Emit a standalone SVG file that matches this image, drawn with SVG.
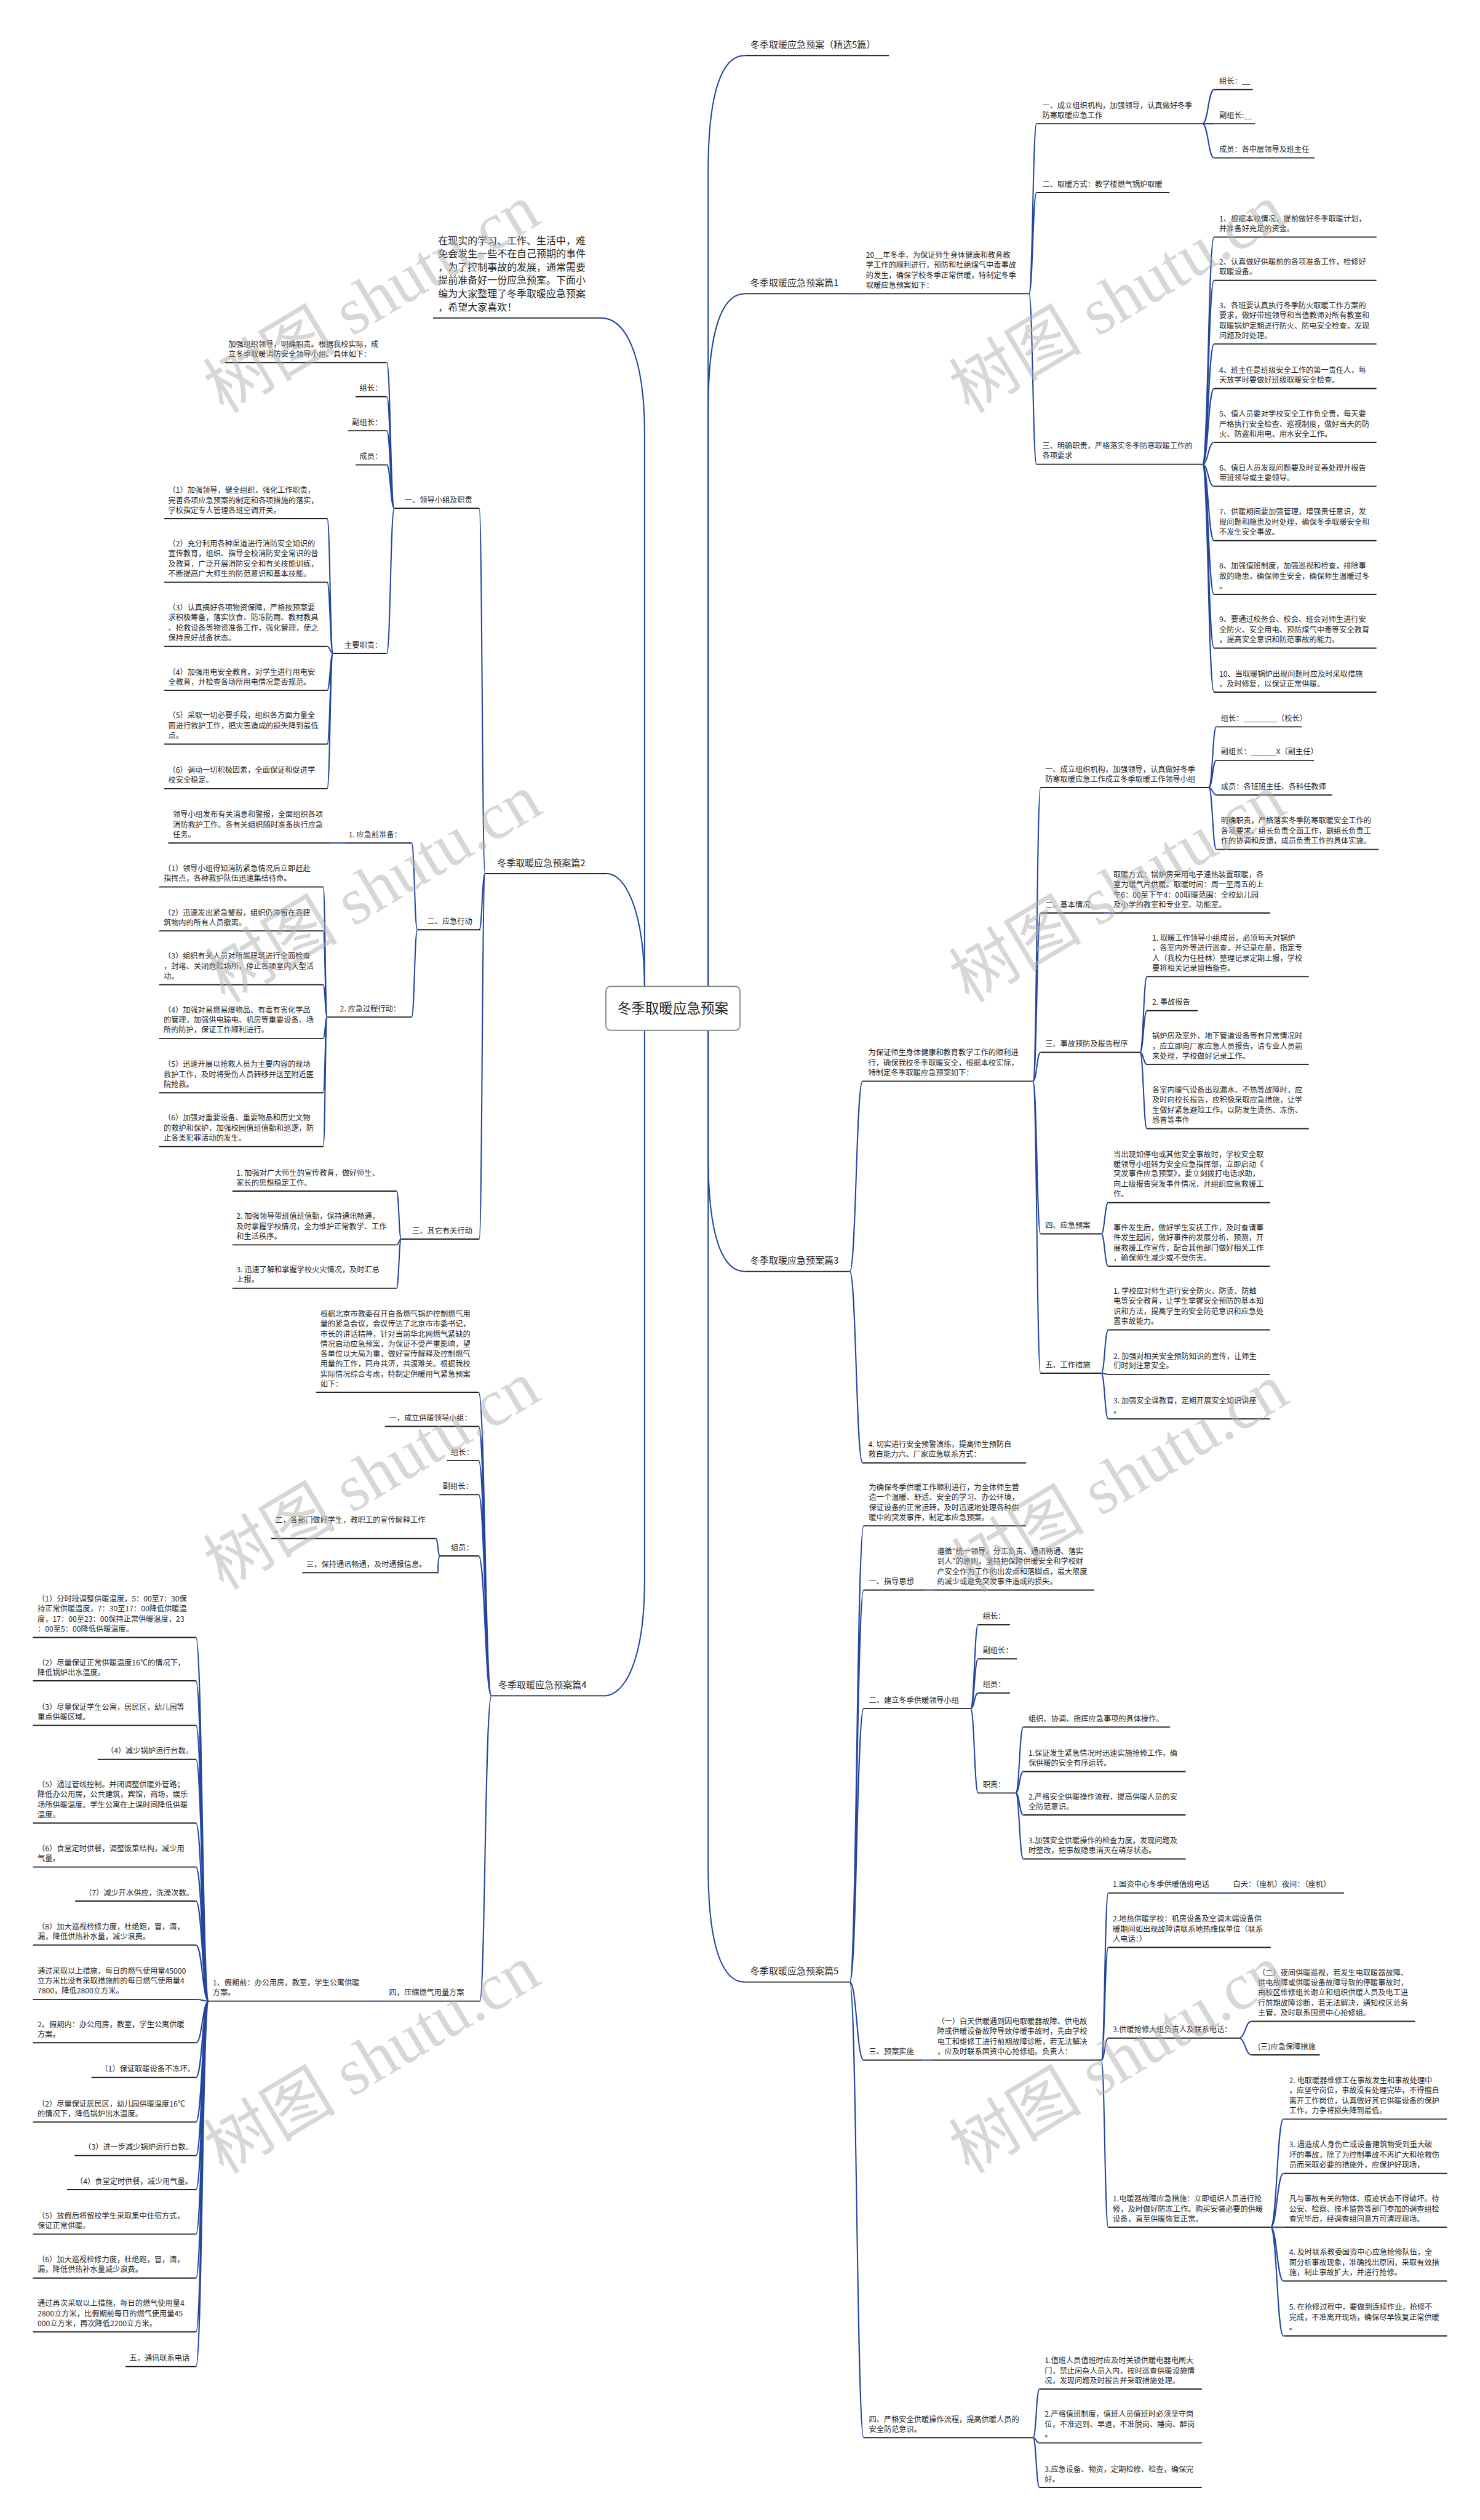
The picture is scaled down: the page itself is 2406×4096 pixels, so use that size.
<svg xmlns="http://www.w3.org/2000/svg" width="2406" height="4096" viewBox="0 0 2406 4096">
<style>
.t{font-family:"Noto Sans CJK SC","Noto Sans",sans-serif;font-size:13px;fill:#262626}
.b{font-size:16px}
.i{font-size:17px}
.u{stroke:#222;stroke-width:2;fill:none}
.c{stroke:#24479d;stroke-width:2.2;fill:none}
.w{font-family:"Liberation Serif","Noto Sans CJK SC",serif;font-size:115px;fill:#b0b0b0;opacity:.5}
</style>
<rect width="2406" height="4096" fill="#fff"/>
<g transform="scale(0.9398)">
<g id="connectors">
<path class="c" d="M1225 1744V296C1225 156 1250 96 1288 96"/>
<path class="c" d="M1225 1744V708C1225 568 1250 508 1288 508"/>
<path class="c" d="M1225 1744V1999C1225 2139 1250 2199 1288 2199"/>
<path class="c" d="M1225 1744V3228C1225 3368 1250 3428 1288 3428"/>
<path class="c" d="M1115 1744V750C1115 610 1080 550 1040 550"/>
<path class="c" d="M1115 1744V1711C1115 1571 1080 1511 1050 1511"/>
<path class="c" d="M1115 1744V2733C1115 2873 1080 2933 1045 2933"/>
<path class="c" d="M1470 508H1492"/>
<path class="c" d="M1780 508C1786.5 508 1786.5 214 1793 214M1780 508C1786.5 508 1786.5 333 1793 333M1780 508C1786.5 508 1786.5 803 1793 803"/>
<path class="c" d="M2080 214C2090 214 2090 155 2100 155M2080 214H2100M2080 214C2090 214 2090 273 2100 273"/>
<path class="c" d="M2080 803C2090 803 2090 410 2100 410M2080 803C2090 803 2090 485 2100 485M2080 803C2090 803 2090 595 2100 595M2080 803C2090 803 2090 672 2100 672M2080 803C2090 803 2090 765 2100 765M2080 803C2090 803 2090 841 2100 841M2080 803C2090 803 2090 935 2100 935M2080 803C2090 803 2090 1028 2100 1028M2080 803C2090 803 2090 1121 2100 1121M2080 803C2090 803 2090 1197 2100 1197"/>
<path class="c" d="M1470 2199C1481 2199 1481 1870 1492 1870M1470 2199C1481 2199 1481 2530 1492 2530"/>
<path class="c" d="M1787 1870C1793.5 1870 1793.5 1362 1800 1362M1787 1870C1793.5 1870 1793.5 1579 1800 1579M1787 1870C1793.5 1870 1793.5 1820 1800 1820M1787 1870C1793.5 1870 1793.5 2134 1800 2134M1787 1870C1793.5 1870 1793.5 2375 1800 2375"/>
<path class="c" d="M2091 1362C2097.5 1362 2097.5 1257 2104 1257M2091 1362C2097.5 1362 2097.5 1315 2104 1315M2091 1362C2097.5 1362 2097.5 1375 2104 1375M2091 1362C2097.5 1362 2097.5 1469 2104 1469"/>
<path class="c" d="M1910 1579H1919"/>
<path class="c" d="M1972 1820C1978 1820 1978 1689 1984 1689M1972 1820C1978 1820 1978 1748 1984 1748M1972 1820C1978 1820 1978 1841 1984 1841M1972 1820C1978 1820 1978 1952 1984 1952"/>
<path class="c" d="M1905 2134C1911 2134 1911 2080 1917 2080M1905 2134C1911 2134 1911 2190 1917 2190"/>
<path class="c" d="M1905 2375C1911 2375 1911 2300 1917 2300M1905 2375C1911 2375 1911 2377 1917 2377M1905 2375C1911 2375 1911 2454 1917 2454"/>
<path class="c" d="M1470 3428C1482 3428 1482 2639 1494 2639M1470 3428C1482 3428 1482 2750 1494 2750M1470 3428C1482 3428 1482 2955 1494 2955M1470 3428C1482 3428 1482 3563 1494 3563M1470 3428C1482 3428 1482 4216 1494 4216"/>
<path class="c" d="M1600 2750H1614"/>
<path class="c" d="M1679 2955C1685.5 2955 1685.5 2810 1692 2810M1679 2955C1685.5 2955 1685.5 2869 1692 2869M1679 2955C1685.5 2955 1685.5 2928 1692 2928M1679 2955C1685.5 2955 1685.5 3101 1692 3101"/>
<path class="c" d="M1757 3101C1763.5 3101 1763.5 2987 1770 2987M1757 3101C1763.5 3101 1763.5 3064 1770 3064M1757 3101C1763.5 3101 1763.5 3139 1770 3139M1757 3101C1763.5 3101 1763.5 3215 1770 3215"/>
<path class="c" d="M1595 3563H1613"/>
<path class="c" d="M1905 3563C1911 3563 1911 3274 1917 3274M1905 3563C1911 3563 1911 3368 1917 3368M1905 3563C1911 3563 1911 3525 1917 3525M1905 3563C1911 3563 1911 3852 1917 3852"/>
<path class="c" d="M2100 3274H2123"/>
<path class="c" d="M2143 3525C2154 3525 2154 3496 2165 3496M2143 3525C2154 3525 2154 3554 2165 3554"/>
<path class="c" d="M2198 3852C2209 3852 2209 3665 2220 3665M2198 3852C2209 3852 2209 3759 2220 3759M2198 3852H2220M2198 3852C2209 3852 2209 3945 2220 3945M2198 3852C2209 3852 2209 4040 2220 4040"/>
<path class="c" d="M1787 4216C1792.5 4216 1792.5 4132 1798 4132M1787 4216C1792.5 4216 1792.5 4225 1798 4225M1787 4216C1792.5 4216 1792.5 4302 1798 4302"/>
<path class="c" d="M839 1511C834 1511 834 879 829 879M839 1511C834 1511 834 1608 829 1608M839 1511C834 1511 834 2143 829 2143"/>
<path class="c" d="M682 879C675.5 879 675.5 627 669 627M682 879C675.5 879 675.5 686 669 686M682 879C675.5 879 675.5 745 669 745M682 879C675.5 879 675.5 804 669 804M682 879C675.5 879 675.5 1130 669 1130"/>
<path class="c" d="M576 1130C571 1130 571 897 566 897M576 1130C571 1130 571 1007 566 1007M576 1130C571 1130 571 1118 566 1118M576 1130C571 1130 571 1194 566 1194M576 1130C571 1130 571 1287 566 1287M576 1130C571 1130 571 1364 566 1364"/>
<path class="c" d="M722 1608C717 1608 717 1458 712 1458M722 1608C717 1608 717 1759 712 1759"/>
<path class="c" d="M597 1458H571"/>
<path class="c" d="M566 1759C562.5 1759 562.5 1534 559 1534M566 1759C562.5 1759 562.5 1610 559 1610M566 1759C562.5 1759 562.5 1703 559 1703M566 1759C562.5 1759 562.5 1796 559 1796M566 1759C562.5 1759 562.5 1890 559 1890M566 1759C562.5 1759 562.5 1983 559 1983"/>
<path class="c" d="M694 2143C690 2143 690 2060 686 2060M694 2143C690 2143 690 2153 686 2153M694 2143C690 2143 690 2228 686 2228"/>
<path class="c" d="M850 2933C839 2933 839 2408 828 2408M850 2933C839 2933 839 2467 828 2467M850 2933C839 2933 839 2526 828 2526M850 2933C839 2933 839 2585 828 2585M850 2933C839 2933 839 2691 828 2691M850 2933C839 2933 839 3461 830 3461"/>
<path class="c" d="M761 2691C757.5 2691 757.5 2661 754 2661M761 2691C757.5 2691 757.5 2720 758 2720"/>
<path class="c" d="M660 3461H643"/>
<path class="c" d="M361 3461C350 3461 350 2832 339 2832M361 3461C350 3461 350 2907 339 2907M361 3461C350 3461 350 2984 339 2984M361 3461C350 3461 350 3043 339 3043M361 3461C350 3461 350 3153 339 3153M361 3461C350 3461 350 3229 339 3229M361 3461C350 3461 350 3288 339 3288M361 3461C350 3461 350 3364 339 3364M361 3461C350 3461 350 3458 339 3458M361 3461C350 3461 350 3533 339 3533M361 3461C350 3461 350 3593 339 3593M361 3461C350 3461 350 3670 339 3670M361 3461C350 3461 350 3728 339 3728M361 3461C350 3461 350 3787 339 3787M361 3461C350 3461 350 3864 339 3864M361 3461C350 3461 350 3940 339 3940M361 3461C350 3461 350 4033 339 4033M361 3461C350 3461 350 4093 339 4093"/>
</g>

<g id="center"><rect x="1048" y="1706" width="232" height="76" rx="8" fill="#fff" stroke="#8a8a8a" stroke-width="2"/><text class="t" x="1164" y="1753" font-size="24" text-anchor="middle" style="font-size:24px">冬季取暖应急预案</text></g>

<g id="title"><path class="u" d="M1288 96H1538"/><text class="t b" x="1298" y="83">冬季取暖应急预案（精选5篇）</text></g>

<g id="p1"><path class="u" d="M1288 508H1470"/><text class="t b" x="1298" y="495">冬季取暖应急预案篇1</text></g>
<g id="p1-0"><path class="u" d="M1492 508H1780"/><text class="t"><tspan x="1498" y="446">20__年冬季，为保证师生身体健康和教育教</tspan><tspan x="1498" y="463">学工作的顺利进行，预防和杜绝煤气中毒事故</tspan><tspan x="1498" y="481">的发生，确保学校冬季正常供暖，特制定冬季</tspan><tspan x="1498" y="498">取暖应急预案如下：</tspan></text></g>
<g id="p1-a"><path class="u" d="M1793 214H2080"/><text class="t"><tspan x="1803" y="187">一、成立组织机构，加强领导，认真做好冬季</tspan><tspan x="1803" y="204">防寒取暖应急工作</tspan></text></g>
<g id="p1-a1"><path class="u" d="M2100 155H2167"/><text class="t" x="2109" y="145">组长：__</text></g>
<g id="p1-a2"><path class="u" d="M2100 214H2171"/><text class="t" x="2109" y="204">副组长:__</text></g>
<g id="p1-a3"><path class="u" d="M2100 273H2274"/><text class="t" x="2109" y="263">成员：各中层领导及班主任</text></g>
<g id="p1-b"><path class="u" d="M1793 333H2023"/><text class="t" x="1803" y="323">二、取暖方式：教学楼燃气锅炉取暖</text></g>
<g id="p1-c"><path class="u" d="M1793 803H2080"/><text class="t"><tspan x="1803" y="776">三、明确职责，严格落实冬季防寒取暖工作的</tspan><tspan x="1803" y="793">各项要求</tspan></text></g>
<g id="p1-c1"><path class="u" d="M2100 410H2381"/><text class="t"><tspan x="2109" y="383">1、根据本校情况，提前做好冬季取暖计划，</tspan><tspan x="2109" y="400">并准备好充足的资金。</tspan></text></g>
<g id="p1-c2"><path class="u" d="M2100 485H2381"/><text class="t"><tspan x="2109" y="458">2、认真做好供暖前的各项准备工作，检修好</tspan><tspan x="2109" y="475">取暖设备。</tspan></text></g>
<g id="p1-c3"><path class="u" d="M2100 595H2381"/><text class="t"><tspan x="2109" y="533">3、各班要认真执行冬季防火取暖工作方案的</tspan><tspan x="2109" y="550">要求，做好带班领导和当值教师对所有教室和</tspan><tspan x="2109" y="568">取暖锅炉定期进行防火、防电安全检查，发现</tspan><tspan x="2109" y="585">问题及时处理。</tspan></text></g>
<g id="p1-c4"><path class="u" d="M2100 672H2381"/><text class="t"><tspan x="2109" y="645">4、班主任是班级安全工作的第一责任人，每</tspan><tspan x="2109" y="662">天放学时要做好班级取暖安全检查。</tspan></text></g>
<g id="p1-c5"><path class="u" d="M2100 765H2381"/><text class="t"><tspan x="2109" y="720">5、值人员要对学校安全工作负全责，每天要</tspan><tspan x="2109" y="738">严格执行安全检查、巡视制度，做好当天的防</tspan><tspan x="2109" y="755">火、防盗和用电、用水安全工作。</tspan></text></g>
<g id="p1-c6"><path class="u" d="M2100 841H2381"/><text class="t"><tspan x="2109" y="814">6、值日人员发现问题要及时妥善处理并报告</tspan><tspan x="2109" y="831">带班领导或主要领导。</tspan></text></g>
<g id="p1-c7"><path class="u" d="M2100 935H2381"/><text class="t"><tspan x="2109" y="890">7、供暖期间要加强管理，增强责任意识，发</tspan><tspan x="2109" y="908">现问题和隐患及时处理，确保冬季取暖安全和</tspan><tspan x="2109" y="925">不发生安全事故。</tspan></text></g>
<g id="p1-c8"><path class="u" d="M2100 1028H2381"/><text class="t"><tspan x="2109" y="983">8、加强值班制度，加强巡视和检查，排除事</tspan><tspan x="2109" y="1001">故的隐患，确保师生安全，确保师生温暖过冬</tspan><tspan x="2109" y="1018">。</tspan></text></g>
<g id="p1-c9"><path class="u" d="M2100 1121H2381"/><text class="t"><tspan x="2109" y="1076">9、要通过校务会、校会、班会对师生进行安</tspan><tspan x="2109" y="1094">全防火、安全用电、预防煤气中毒等安全教育</tspan><tspan x="2109" y="1111">，提高安全意识和防范事故的能力。</tspan></text></g>
<g id="p1-c10"><path class="u" d="M2100 1197H2381"/><text class="t"><tspan x="2109" y="1170">10、当取暖锅炉出现问题时应及时采取措施</tspan><tspan x="2109" y="1187">，及时修复，以保证正常供暖。</tspan></text></g>

<g id="p3"><path class="u" d="M1288 2199H1470"/><text class="t b" x="1298" y="2186">冬季取暖应急预案篇3</text></g>
<g id="p3-0"><path class="u" d="M1492 1870H1787"/><text class="t"><tspan x="1502" y="1825">为保证师生身体健康和教育教学工作的顺利进</tspan><tspan x="1502" y="1843">行，确保我校冬季取暖安全，根据本校实际，</tspan><tspan x="1502" y="1860">特制定冬季取暖应急预案如下：</tspan></text></g>
<g id="p3-4"><path class="u" d="M1492 2530H1775"/><text class="t"><tspan x="1502" y="2503">4. 切实进行安全预警演练，提高师生预防自</tspan><tspan x="1502" y="2520">救自能力六、厂家应急联系方式：</tspan></text></g>
<g id="p3-a"><path class="u" d="M1800 1362H2091"/><text class="t"><tspan x="1808" y="1335">一、成立组织机构，加强领导，认真做好冬季</tspan><tspan x="1808" y="1352">防寒取暖应急工作成立冬季取暖工作领导小组</tspan></text></g>
<g id="p3-a1"><path class="u" d="M2104 1257H2252"/><text class="t" x="2112" y="1247">组长：________（校长）</text></g>
<g id="p3-a2"><path class="u" d="M2104 1315H2273"/><text class="t" x="2112" y="1305">副组长：______X（副主任）</text></g>
<g id="p3-a3"><path class="u" d="M2104 1375H2304"/><text class="t" x="2112" y="1365">成员：各班班主任、各科任教师</text></g>
<g id="p3-a4"><path class="u" d="M2104 1469H2385"/><text class="t"><tspan x="2112" y="1424">明确职责，严格落实冬季防寒取暖安全工作的</tspan><tspan x="2112" y="1442">各项要求，组长负责全面工作，副组长负责工</tspan><tspan x="2112" y="1459">作的协调和反馈，成员负责工作的具体实施。</tspan></text></g>
<g id="p3-b"><path class="u" d="M1800 1579H1910"/><text class="t" x="1808" y="1569">二、基本情况</text></g>
<g id="p3-b1"><path class="u" d="M1919 1579H2197"/><text class="t"><tspan x="1926" y="1517">取暖方式：锅炉房采用电子速热装置取暖，各</tspan><tspan x="1926" y="1534">室为暖气片供暖。取暖时间：周一至周五的上</tspan><tspan x="1926" y="1552">午6：00至下午4：00取暖范围：全校幼儿园</tspan><tspan x="1926" y="1569">及小学的教室和专业室、功能室。</tspan></text></g>
<g id="p3-c"><path class="u" d="M1800 1820H1972"/><text class="t" x="1808" y="1810">三、事故预防及报告程序</text></g>
<g id="p3-c1"><path class="u" d="M1984 1689H2264"/><text class="t"><tspan x="1993" y="1627">1. 取暖工作领导小组成员，必须每天对锅炉</tspan><tspan x="1993" y="1644">，各室内外等进行巡查，并记录在册，指定专</tspan><tspan x="1993" y="1662">人（我校为任桂林）整理记录定期上报，学校</tspan><tspan x="1993" y="1679">要将相关记录留档备查。</tspan></text></g>
<g id="p3-c2"><path class="u" d="M1984 1748H2072"/><text class="t" x="1993" y="1738">2. 事故报告</text></g>
<g id="p3-c3"><path class="u" d="M1984 1841H2264"/><text class="t"><tspan x="1993" y="1796">锅炉房及室外、地下管道设备等有异常情况时</tspan><tspan x="1993" y="1814">，应立即向厂家应急人员报告，请专业人员前</tspan><tspan x="1993" y="1831">来处理，学校做好记录工作。</tspan></text></g>
<g id="p3-c4"><path class="u" d="M1984 1952H2264"/><text class="t"><tspan x="1993" y="1890">各室内暖气设备出现漏水、不热等故障时，应</tspan><tspan x="1993" y="1907">及时向校长报告，应积极采取应急措施，让学</tspan><tspan x="1993" y="1925">生做好紧急避险工作，以防发生烫伤、冻伤、</tspan><tspan x="1993" y="1942">感冒等事件</tspan></text></g>
<g id="p3-d"><path class="u" d="M1800 2134H1905"/><text class="t" x="1808" y="2124">四、应急预案</text></g>
<g id="p3-d1"><path class="u" d="M1917 2080H2197"/><text class="t"><tspan x="1926" y="2001">当出现如停电或其他安全事故时，学校安全取</tspan><tspan x="1926" y="2018">暖领导小组转为安全应急指挥部，立即启动《</tspan><tspan x="1926" y="2035">突发事件应急预案》，要立刻拨打电话求助，</tspan><tspan x="1926" y="2053">向上级报告突发事件情况，并组织应急救援工</tspan><tspan x="1926" y="2070">作。</tspan></text></g>
<g id="p3-d2"><path class="u" d="M1917 2190H2197"/><text class="t"><tspan x="1926" y="2128">事件发生后，做好学生安抚工作，及时查请事</tspan><tspan x="1926" y="2145">件发生起因，做好事件的发展分析、预测，开</tspan><tspan x="1926" y="2163">展救援工作宣传，配合其他部门做好相关工作</tspan><tspan x="1926" y="2180">，确保师生减少或不受伤害。</tspan></text></g>
<g id="p3-e"><path class="u" d="M1800 2375H1905"/><text class="t" x="1808" y="2365">五、工作措施</text></g>
<g id="p3-e1"><path class="u" d="M1917 2300H2197"/><text class="t"><tspan x="1926" y="2238">1. 学校应对师生进行安全防火、防烫、防触</tspan><tspan x="1926" y="2255">电等安全教育，让学生掌握安全预防的基本知</tspan><tspan x="1926" y="2273">识和方法，提高学生的安全防范意识和应急处</tspan><tspan x="1926" y="2290">置事故能力。</tspan></text></g>
<g id="p3-e2"><path class="u" d="M1917 2377H2197"/><text class="t"><tspan x="1926" y="2350">2. 加强对相关安全预防知识的宣传，让师生</tspan><tspan x="1926" y="2367">们时刻注意安全。</tspan></text></g>
<g id="p3-e3"><path class="u" d="M1917 2454H2197"/><text class="t"><tspan x="1926" y="2427">3. 加强安全课教育，定期开展安全知识讲座</tspan><tspan x="1926" y="2444">。</tspan></text></g>

<g id="p5"><path class="u" d="M1288 3428H1470"/><text class="t b" x="1298" y="3415">冬季取暖应急预案篇5</text></g>
<g id="p5-0"><path class="u" d="M1494 2639H1775"/><text class="t"><tspan x="1503" y="2577">为确保冬季供暖工作顺利进行，为全体师生营</tspan><tspan x="1503" y="2594">造一个温暖、舒适、安全的学习、办公环境，</tspan><tspan x="1503" y="2612">保证设备的正常运转，及时迅速地处理各种供</tspan><tspan x="1503" y="2629">暖中的突发事件，制定本应急预案。</tspan></text></g>
<g id="p5-a"><path class="u" d="M1494 2750H1600"/><text class="t" x="1503" y="2740">一、指导思想</text></g>
<g id="p5-a1"><path class="u" d="M1614 2750H1893"/><text class="t"><tspan x="1621" y="2688">遵循"统一领导、分工负责、通讯畅通、落实</tspan><tspan x="1621" y="2705">到人"的原则，坚持把保障供暖安全和学校财</tspan><tspan x="1621" y="2723">产安全作为工作的出发点和落脚点，最大限度</tspan><tspan x="1621" y="2740">的减少或避免突发事件造成的损失。</tspan></text></g>
<g id="p5-b"><path class="u" d="M1494 2955H1679"/><text class="t" x="1503" y="2945">二、建立冬季供暖领导小组</text></g>
<g id="p5-b1"><path class="u" d="M1692 2810H1747"/><text class="t" x="1700" y="2800">组长：</text></g>
<g id="p5-b2"><path class="u" d="M1692 2869H1759"/><text class="t" x="1700" y="2859">副组长：</text></g>
<g id="p5-b3"><path class="u" d="M1692 2928H1747"/><text class="t" x="1700" y="2918">组员：</text></g>
<g id="p5-b4"><path class="u" d="M1692 3101H1757"/><text class="t" x="1700" y="3091">职责：</text></g>
<g id="p5-b41"><path class="u" d="M1770 2987H2024"/><text class="t" x="1779" y="2977">组织、协调、指挥应急事项的具体操作。</text></g>
<g id="p5-b42"><path class="u" d="M1770 3064H2051"/><text class="t"><tspan x="1779" y="3037">1.保证发生紧急情况时迅速实施抢修工作，确</tspan><tspan x="1779" y="3054">保供暖的安全有序运转。</tspan></text></g>
<g id="p5-b43"><path class="u" d="M1770 3139H2051"/><text class="t"><tspan x="1779" y="3112">2.严格安全供暖操作流程，提高供暖人员的安</tspan><tspan x="1779" y="3129">全防范意识。</tspan></text></g>
<g id="p5-b44"><path class="u" d="M1770 3215H2051"/><text class="t"><tspan x="1779" y="3188">3.加强安全供暖操作的检查力度，发现问题及</tspan><tspan x="1779" y="3205">时整改，把事故隐患消灭在萌芽状态。</tspan></text></g>
<g id="p5-c"><path class="u" d="M1494 3563H1595"/><text class="t" x="1503" y="3553">三、预案实施</text></g>
<g id="p5-c1"><path class="u" d="M1613 3563H1905"/><text class="t"><tspan x="1621" y="3501">（一）白天供暖遇到因电取暖器故障、供电故</tspan><tspan x="1621" y="3518">障或供暖设备故障导致停暖事故时，先由学校</tspan><tspan x="1621" y="3536">电工和维修工进行前期故障诊断，若无法解决</tspan><tspan x="1621" y="3553">，应及时联系国资中心抢修组。负责人：</tspan></text></g>
<g id="p5-c11"><path class="u" d="M1917 3274H2100"/><text class="t" x="1925" y="3264">1.国资中心冬季供暖值班电话</text></g>
<g id="p5-c111"><path class="u" d="M2123 3274H2325"/><text class="t" x="2133" y="3264">白天：（座机）夜间：（座机）</text></g>
<g id="p5-c12"><path class="u" d="M1917 3368H2198"/><text class="t"><tspan x="1925" y="3323">2.地热供暖学校：机房设备及空调末端设备供</tspan><tspan x="1925" y="3341">暖期间如出现故障请联系地热维保单位（联系</tspan><tspan x="1925" y="3358">人电话：）</tspan></text></g>
<g id="p5-c13"><path class="u" d="M1917 3525H2143"/><text class="t" x="1925" y="3515">3.供暖抢修大组负责人及联系电话：</text></g>
<g id="p5-c131"><path class="u" d="M2165 3496H2448"/><text class="t"><tspan x="2176" y="3417">（二）夜间供暖巡视，若发生电取暖器故障、</tspan><tspan x="2176" y="3434">供电故障或供暖设备故障导致的停暖事故时，</tspan><tspan x="2176" y="3451">由校区维修组长谢立和组织供暖人员及电工进</tspan><tspan x="2176" y="3469">行前期故障诊断，若无法解决，通知校区总务</tspan><tspan x="2176" y="3486">主管，及时联系国资中心抢修组。</tspan></text></g>
<g id="p5-c132"><path class="u" d="M2165 3554H2283"/><text class="t" x="2176" y="3544">(三)应急保障措施</text></g>
<g id="p5-c14"><path class="u" d="M1917 3852H2198"/><text class="t"><tspan x="1925" y="3807">1.电暖器故障应急措施：立即组织人员进行抢</tspan><tspan x="1925" y="3825">修，及时做好防冻工作。购买安装必要的供暖</tspan><tspan x="1925" y="3842">设备，直至供暖恢复正常。</tspan></text></g>
<g id="p5-c141"><path class="u" d="M2220 3665H2503"/><text class="t"><tspan x="2230" y="3603">2. 电取暖器维修工在事故发生和事故处理中</tspan><tspan x="2230" y="3620">，应坚守岗位，事故没有处理完毕，不得擅自</tspan><tspan x="2230" y="3638">离开工作岗位，认真做好其它供暖设备的保护</tspan><tspan x="2230" y="3655">工作，力争将损失降到最低。</tspan></text></g>
<g id="p5-c142"><path class="u" d="M2220 3759H2503"/><text class="t"><tspan x="2230" y="3714">3. 遇造成人身伤亡或设备建筑物受到重大破</tspan><tspan x="2230" y="3732">坏的事故，除了为控制事故不再扩大和抢救伤</tspan><tspan x="2230" y="3749">员而采取必要的措施外，应保护好现场，</tspan></text></g>
<g id="p5-c143"><path class="u" d="M2220 3852H2503"/><text class="t"><tspan x="2230" y="3807">凡与事故有关的物体、痕迹状态不得破坏。待</tspan><tspan x="2230" y="3825">公安、检察、技术监督等部门参加的调查组检</tspan><tspan x="2230" y="3842">查完毕后，经调查组同意方可清理现场。</tspan></text></g>
<g id="p5-c144"><path class="u" d="M2220 3945H2503"/><text class="t"><tspan x="2230" y="3900">4. 及时联系教委国资中心应急抢修队伍，全</tspan><tspan x="2230" y="3918">面分析事故现象，准确找出原因，采取有效措</tspan><tspan x="2230" y="3935">施，制止事故扩大，并进行抢修。</tspan></text></g>
<g id="p5-c145"><path class="u" d="M2220 4040H2503"/><text class="t"><tspan x="2230" y="3995">5. 在抢修过程中，要做到连续作业，抢修不</tspan><tspan x="2230" y="4013">完成，不准离开现场，确保尽早恢复正常供暖</tspan><tspan x="2230" y="4030">。</tspan></text></g>
<g id="p5-d"><path class="u" d="M1494 4216H1787"/><text class="t"><tspan x="1503" y="4189">四、严格安全供暖操作流程，提高供暖人员的</tspan><tspan x="1503" y="4206">安全防范意识。</tspan></text></g>
<g id="p5-d1"><path class="u" d="M1798 4132H2079"/><text class="t"><tspan x="1807" y="4087">1.值班人员值班时应及时关锁供暖电器电闸大</tspan><tspan x="1807" y="4105">门，禁止闲杂人员入内，按时巡查供暖设施情</tspan><tspan x="1807" y="4122">况，发现问题及时报告并采取措施处理。</tspan></text></g>
<g id="p5-d2"><path class="u" d="M1798 4225H2079"/><text class="t"><tspan x="1807" y="4180">2.严格值班制度，值班人员值班时必须坚守岗</tspan><tspan x="1807" y="4198">位，不准迟到、早退，不准脱岗、睡岗、醉岗</tspan><tspan x="1807" y="4215">。</tspan></text></g>
<g id="p5-d3"><path class="u" d="M1798 4302H2079"/><text class="t"><tspan x="1807" y="4275">3.应急设备、物资，定期检修、检查，确保完</tspan><tspan x="1807" y="4292">好。</tspan></text></g>

<g id="intro"><path class="u" d="M749 550H1040"/><text class="t i"><tspan x="758" y="422">在现实的学习、工作、生活中，难</tspan><tspan x="758" y="445">免会发生一些不在自己预期的事件</tspan><tspan x="758" y="468">，为了控制事故的发展，通常需要</tspan><tspan x="758" y="491">提前准备好一份应急预案。下面小</tspan><tspan x="758" y="514">编为大家整理了冬季取暖应急预案</tspan><tspan x="758" y="537">，希望大家喜欢！</tspan></text></g>

<g id="p2"><path class="u" d="M839 1511H1050"/><text class="t b" x="860" y="1498">冬季取暖应急预案篇2</text></g>
<g id="p2-a"><path class="u" d="M682 879H829"/><text class="t" x="700" y="869">一、领导小组及职责</text></g>
<g id="p2-a1"><path class="u" d="M389 627H669"/><text class="t"><tspan x="395" y="600">加强组织领导，明确职责。根据我校实际，成</tspan><tspan x="395" y="617">立冬季取暖消防安全领导小组。具体如下：</tspan></text></g>
<g id="p2-a2"><path class="u" d="M615 686H669"/><text class="t" x="622" y="676">组长：</text></g>
<g id="p2-a3"><path class="u" d="M602 745H669"/><text class="t" x="609" y="735">副组长：</text></g>
<g id="p2-a4"><path class="u" d="M615 804H669"/><text class="t" x="622" y="794">成员：</text></g>
<g id="p2-a5"><path class="u" d="M576 1130H669"/><text class="t" x="596" y="1120">主要职责：</text></g>
<g id="p2-a51"><path class="u" d="M284 897H566"/><text class="t"><tspan x="291" y="852">（1）加强领导，健全组织，强化工作职责，</tspan><tspan x="291" y="870">完善各项应急预案的制定和各项措施的落实，</tspan><tspan x="291" y="887">学校指定专人管理各班空调开关。</tspan></text></g>
<g id="p2-a52"><path class="u" d="M284 1007H566"/><text class="t"><tspan x="291" y="945">（2）充分利用各种渠道进行消防安全知识的</tspan><tspan x="291" y="962">宣传教育，组织、指导全校消防安全常识的普</tspan><tspan x="291" y="980">及教育，广泛开展消防安全和有关技能训练，</tspan><tspan x="291" y="997">不断提高广大师生的防范意识和基本技能。</tspan></text></g>
<g id="p2-a53"><path class="u" d="M284 1118H566"/><text class="t"><tspan x="291" y="1056">（3）认真搞好各项物资保障，严格按预案要</tspan><tspan x="291" y="1073">求积极筹备，落实饮食、防冻防雨、教材教具</tspan><tspan x="291" y="1091">、抢救设备等物资准备工作，强化管理，使之</tspan><tspan x="291" y="1108">保持良好战备状态。</tspan></text></g>
<g id="p2-a54"><path class="u" d="M284 1194H566"/><text class="t"><tspan x="291" y="1167">（4）加强用电安全教育。对学生进行用电安</tspan><tspan x="291" y="1184">全教育，并检查各场所用电情况是否规范。</tspan></text></g>
<g id="p2-a55"><path class="u" d="M284 1287H566"/><text class="t"><tspan x="291" y="1242">（5）采取一切必要手段，组织各方面力量全</tspan><tspan x="291" y="1260">面进行救护工作，把灾害造成的损失降到最低</tspan><tspan x="291" y="1277">点。</tspan></text></g>
<g id="p2-a56"><path class="u" d="M284 1364H566"/><text class="t"><tspan x="291" y="1337">（6）调动一切积极因素，全面保证和促进学</tspan><tspan x="291" y="1354">校安全稳定。</tspan></text></g>
<g id="p2-b"><path class="u" d="M722 1608H831"/><text class="t" x="739" y="1598">二、应急行动</text></g>
<g id="p2-b1"><path class="u" d="M597 1458H712"/><text class="t" x="603" y="1448">1. 应急前准备：</text></g>
<g id="p2-b11"><path class="u" d="M291 1458H571"/><text class="t"><tspan x="299" y="1413">领导小组发布有关消息和警报，全面组织各项</tspan><tspan x="299" y="1431">消防救护工作。各有关组织随时准备执行应急</tspan><tspan x="299" y="1448">任务。</tspan></text></g>
<g id="p2-b2"><path class="u" d="M566 1759H712"/><text class="t" x="588" y="1749">2. 应急过程行动：</text></g>
<g id="p2-b21"><path class="u" d="M275 1534H559"/><text class="t"><tspan x="283" y="1507">（1）领导小组得知消防紧急情况后立即赶赴</tspan><tspan x="283" y="1524">指挥点，各种救护队伍迅速集结待命。</tspan></text></g>
<g id="p2-b22"><path class="u" d="M275 1610H559"/><text class="t"><tspan x="283" y="1583">（2）迅速发出紧急警报，组织仍滞留在各建</tspan><tspan x="283" y="1600">筑物内的所有人员撤离。</tspan></text></g>
<g id="p2-b23"><path class="u" d="M275 1703H559"/><text class="t"><tspan x="283" y="1658">（3）组织有关人员对所属建筑进行全面检查</tspan><tspan x="283" y="1676">，封堵、关闭危险场所，停止各项室内大型活</tspan><tspan x="283" y="1693">动。</tspan></text></g>
<g id="p2-b24"><path class="u" d="M275 1796H559"/><text class="t"><tspan x="283" y="1751">（4）加强对易燃易爆物品、有毒有害化学品</tspan><tspan x="283" y="1769">的管理，加强供电输电、机房等重要设备、场</tspan><tspan x="283" y="1786">所的防护，保证工作顺利进行。</tspan></text></g>
<g id="p2-b25"><path class="u" d="M275 1890H559"/><text class="t"><tspan x="283" y="1845">（5）迅速开展以抢救人员为主要内容的现场</tspan><tspan x="283" y="1863">救护工作，及时将受伤人员转移并送至附近医</tspan><tspan x="283" y="1880">院抢救。</tspan></text></g>
<g id="p2-b26"><path class="u" d="M275 1983H559"/><text class="t"><tspan x="283" y="1938">（6）加强对重要设备、重要物品和历史文物</tspan><tspan x="283" y="1956">的救护和保护，加强校园值班值勤和巡逻，防</tspan><tspan x="283" y="1973">止各类犯罪活动的发生。</tspan></text></g>
<g id="p2-c"><path class="u" d="M694 2143H829"/><text class="t" x="713" y="2133">三、其它有关行动</text></g>
<g id="p2-c1"><path class="u" d="M402 2060H686"/><text class="t"><tspan x="409" y="2033">1. 加强对广大师生的宣传教育，做好师生、</tspan><tspan x="409" y="2050">家长的思想稳定工作。</tspan></text></g>
<g id="p2-c2"><path class="u" d="M402 2153H686"/><text class="t"><tspan x="409" y="2108">2. 加强领导带班值班值勤，保持通讯畅通，</tspan><tspan x="409" y="2126">及时掌握学校情况，全力维护正常教学、工作</tspan><tspan x="409" y="2143">和生活秩序。</tspan></text></g>
<g id="p2-c3"><path class="u" d="M402 2228H686"/><text class="t"><tspan x="409" y="2201">3. 迅速了解和掌握学校火灾情况，及时汇总</tspan><tspan x="409" y="2218">上报。</tspan></text></g>

<g id="p4"><path class="u" d="M850 2933H1045"/><text class="t b" x="862" y="2920">冬季取暖应急预案篇4</text></g>
<g id="p4-0"><path class="u" d="M547 2408H828"/><text class="t"><tspan x="554" y="2277">根据北京市教委召开自备燃气锅炉控制燃气用</tspan><tspan x="554" y="2294">量的紧急会议，会议传达了北京市市委书记，</tspan><tspan x="554" y="2312">市长的讲话精神，针对当前华北网燃气紧缺的</tspan><tspan x="554" y="2329">情况启动应急预案，为保证不受严重影响，望</tspan><tspan x="554" y="2346">各单位以大局为重，做好宣传解释及控制燃气</tspan><tspan x="554" y="2363">用量的工作，同舟共济，共渡难关。根据我校</tspan><tspan x="554" y="2381">实际情况综合考虑，特制定供暖用气紧急预案</tspan><tspan x="554" y="2398">如下：</tspan></text></g>
<g id="p4-a"><path class="u" d="M666 2467H828"/><text class="t" x="673" y="2457">一，成立供暖领导小组：</text></g>
<g id="p4-a1"><path class="u" d="M773 2526H828"/><text class="t" x="780" y="2516">组长：</text></g>
<g id="p4-a2"><path class="u" d="M760 2585H828"/><text class="t" x="766" y="2575">副组长：</text></g>
<g id="p4-a3"><path class="u" d="M761 2691H828"/><text class="t" x="780" y="2681">组员：</text></g>
<g id="p4-a31"><path class="u" d="M469 2661H754"/><text class="t"><tspan x="476" y="2634">二，各部门做好学生，教职工的宣传解释工作</tspan><tspan x="476" y="2651">。</tspan></text></g>
<g id="p4-a32"><path class="u" d="M523 2720H758"/><text class="t" x="530" y="2710">三，保持通讯畅通，及时通报信息。</text></g>
<g id="p4-d"><path class="u" d="M660 3461H830"/><text class="t" x="673" y="3451">四，压缩燃气用量方案</text></g>
<g id="p4-d1"><path class="u" d="M361 3461H643"/><text class="t"><tspan x="368" y="3434">1、假期前：办公用房，教室，学生公寓供暖</tspan><tspan x="368" y="3451">方案。</tspan></text></g>
<g id="p4-d11"><path class="u" d="M57 2832H339"/><text class="t"><tspan x="65" y="2770">（1）分时段调整供暖温度，5：00至7：30保</tspan><tspan x="65" y="2787">持正常供暖温度，7：30至17：00降低供暖温</tspan><tspan x="65" y="2805">度，17：00至23：00保持正常供暖温度，23</tspan><tspan x="65" y="2822">：00至5：00降低供暖温度。</tspan></text></g>
<g id="p4-d12"><path class="u" d="M57 2907H339"/><text class="t"><tspan x="65" y="2880">（2）尽量保证正常供暖温度16℃的情况下，</tspan><tspan x="65" y="2897">降低锅炉出水温度。</tspan></text></g>
<g id="p4-d13"><path class="u" d="M57 2984H339"/><text class="t"><tspan x="65" y="2957">（3）尽量保证学生公寓，居民区，幼儿园等</tspan><tspan x="65" y="2974">重点供暖区域。</tspan></text></g>
<g id="p4-d14"><path class="u" d="M169 3043H339"/><text class="t" x="184" y="3033">（4）减少锅炉运行台数。</text></g>
<g id="p4-d15"><path class="u" d="M57 3153H339"/><text class="t"><tspan x="65" y="3091">（5）通过管线控制。并闭调整供暖外管路；</tspan><tspan x="65" y="3108">降低办公用房，公共建筑，宾馆，商场，娱乐</tspan><tspan x="65" y="3126">场所供暖温度。学生公寓在上课时间降低供暖</tspan><tspan x="65" y="3143">温度。</tspan></text></g>
<g id="p4-d16"><path class="u" d="M57 3229H339"/><text class="t"><tspan x="65" y="3202">（6）食堂定时供餐，调整饭菜结构，减少用</tspan><tspan x="65" y="3219">气量。</tspan></text></g>
<g id="p4-d17"><path class="u" d="M130 3288H339"/><text class="t" x="146" y="3278">（7）减少开水供应，洗澡次数。</text></g>
<g id="p4-d18"><path class="u" d="M57 3364H339"/><text class="t"><tspan x="65" y="3337">（8）加大巡视检修力度，杜绝跑，冒，滴，</tspan><tspan x="65" y="3354">漏，降低供热补水量，减少浪费。</tspan></text></g>
<g id="p4-d19"><path class="u" d="M57 3458H339"/><text class="t"><tspan x="65" y="3413">通过采取以上措施，每日的燃气使用量45000</tspan><tspan x="65" y="3431">立方米比没有采取措施前的每日燃气使用量4</tspan><tspan x="65" y="3448">7800，降低2800立方米。</tspan></text></g>
<g id="p4-d20"><path class="u" d="M57 3533H339"/><text class="t"><tspan x="65" y="3506">2。假期内：办公用房，教室，学生公寓供暖</tspan><tspan x="65" y="3523">方案。</tspan></text></g>
<g id="p4-d21"><path class="u" d="M158 3593H339"/><text class="t" x="174" y="3583">（1）保证取暖设备不冻坏。</text></g>
<g id="p4-d22"><path class="u" d="M57 3670H339"/><text class="t"><tspan x="65" y="3643">（2）尽量保证居民区，幼儿园供暖温度16℃</tspan><tspan x="65" y="3660">的情况下，降低锅炉出水温度。</tspan></text></g>
<g id="p4-d23"><path class="u" d="M129 3728H339"/><text class="t" x="145" y="3718">（3）进一步减少锅炉运行台数。</text></g>
<g id="p4-d24"><path class="u" d="M116 3787H339"/><text class="t" x="131" y="3777">（4）食堂定时供餐，减少用气量。</text></g>
<g id="p4-d25"><path class="u" d="M57 3864H339"/><text class="t"><tspan x="65" y="3837">（5）放假后将留校学生采取集中住宿方式，</tspan><tspan x="65" y="3854">保证正常供暖。</tspan></text></g>
<g id="p4-d26"><path class="u" d="M57 3940H339"/><text class="t"><tspan x="65" y="3913">（6）加大巡视检修力度，杜绝跑，冒，滴，</tspan><tspan x="65" y="3930">漏，降低供热补水量减少浪费。</tspan></text></g>
<g id="p4-d27"><path class="u" d="M57 4033H339"/><text class="t"><tspan x="65" y="3988">通过再次采取以上措施，每日的燃气使用量4</tspan><tspan x="65" y="4006">2800立方米，比假期前每日的燃气使用量45</tspan><tspan x="65" y="4023">000立方米，再次降低2200立方米。</tspan></text></g>
<g id="p4-d28"><path class="u" d="M217 4093H339"/><text class="t" x="224" y="4083">五，通讯联系电话</text></g>

<g id="watermarks">
<text class="w" x="645" y="555" text-anchor="middle" transform="rotate(-31 645 520)">树图 shutu.cn</text>
<text class="w" x="1935" y="555" text-anchor="middle" transform="rotate(-31 1935 520)">树图 shutu.cn</text>
<text class="w" x="648" y="1575" text-anchor="middle" transform="rotate(-31 648 1540)">树图 shutu.cn</text>
<text class="w" x="1935" y="1575" text-anchor="middle" transform="rotate(-31 1935 1540)">树图 shutu.cn</text>
<text class="w" x="645" y="2590" text-anchor="middle" transform="rotate(-31 645 2555)">树图 shutu.cn</text>
<text class="w" x="1940" y="2595" text-anchor="middle" transform="rotate(-31 1940 2560)">树图 shutu.cn</text>
<text class="w" x="645" y="3600" text-anchor="middle" transform="rotate(-31 645 3565)">树图 shutu.cn</text>
<text class="w" x="1935" y="3600" text-anchor="middle" transform="rotate(-31 1935 3565)">树图 shutu.cn</text>
<text class="w" x="645" y="4615" text-anchor="middle" transform="rotate(-31 645 4580)">树图 shutu.cn</text>
</g>
</g>
</svg>
